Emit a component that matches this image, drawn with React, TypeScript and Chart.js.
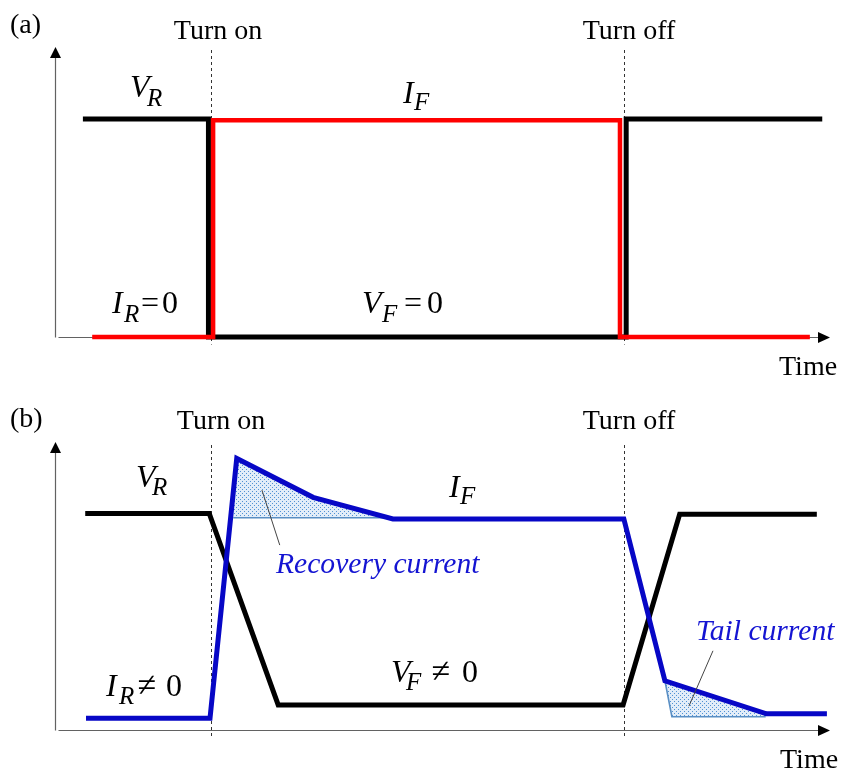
import React, { useEffect, useRef } from "react";
import { Chart, registerables } from "chart.js";

Chart.register(...registerables);

const SERIF = '"Liberation Serif", "Times New Roman", serif';
const BLUE = "#0707c6";
const BLUE_TEXT = "#1414d2";
const RED = "#ff0000";
const INK = "#000000";
const AXIS = "#626262";
const EDGE = "#5a8fc4";

const W = 843;
const H = 387;

// Switching instants on the time axis (0..100)
const turnOn = 20.1;
const turnOff = 73.4;

// (a) ideal diode: reverse voltage and forward current
const vrIdealT = [3.6, 19.8, 19.8, 73.7, 73.7, 99.0];
const vrIdealV = [75.2, 75.2, 0, 0, 75.2, 75.2];
const iIdealT = [4.8, 20.4, 20.4, 72.9, 72.9, 97.4];
const iIdealV = [0, 0, 74.7, 74.7, 0, 0];

// (b) real diode: finite slopes, recovery overshoot and tail
const vrRealT = [3.9, 19.9, 28.8, 73.3, 80.6, 98.3];
const vrRealV = [75.2, 75.2, 8.7, 8.7, 74.9, 74.9];
const iRealT = [4.0, 20.0, 23.45, 33.3, 43.6, 73.4, 78.7, 91.8, 99.6];
const iRealV = [4.1, 4.1, 94.3, 80.8, 73.3, 73.3, 17.1, 5.6, 5.6];

// Shaded areas (closed outlines)
const recoveryT = [22.8, 23.45, 33.3, 43.6];
const recoveryV = [73.7, 94.3, 80.8, 73.5];
const tailT = [78.7, 91.8, 91.7, 79.6];
const tailV = [17.1, 5.6, 4.6, 4.6];

// Thin outline under each shaded area
const recoveryEdgeT = [23.0, 43.6];
const recoveryEdgeV = [73.7, 73.7];
const tailEdgeT = [78.7, 79.6, 91.7];
const tailEdgeV = [17.1, 4.6, 4.6];

// Pointer lines from the notes to the shaded areas [t1, v1, t2, v2]
const recoveryPointer = [26.7, 83.3, 29.0, 64.2];
const tailPointer = [84.9, 27.5, 81.8, 8.3];

type Style = "t" | "tc" | "m" | "s" | "r" | "ne" | "n";
type Label = [string, number, number, Style];

// Text labels, page coordinates (x, baseline)
const labelsA: Label[] = [
  ["(a)", 10, 33, "t"],
  ["Turn on", 218, 39, "tc"],
  ["Turn off", 629, 39, "tc"],
  ["V", 130, 97, "m"],
  ["R", 147, 106, "s"],
  ["I", 403, 103, "m"],
  ["F", 414, 110, "s"],
  ["I", 112, 313, "m"],
  ["R", 124, 322, "s"],
  ["=", 141, 313, "r"],
  ["0", 162, 313, "r"],
  ["V", 362, 313, "m"],
  ["F", 382, 322, "s"],
  ["=", 404, 313, "r"],
  ["0", 427, 313, "r"],
  ["Time", 779, 375, "t"],
];

const labelsB: Label[] = [
  ["(b)", 10, 427, "t"],
  ["Turn on", 221, 429, "tc"],
  ["Turn off", 629, 429, "tc"],
  ["V", 136, 487, "m"],
  ["R", 152, 495, "s"],
  ["I", 449, 497, "m"],
  ["F", 460, 504, "s"],
  ["I", 106, 696, "m"],
  ["R", 119, 704, "s"],
  ["\u2260", 137, 696, "ne"],
  ["0", 166, 696, "r"],
  ["V", 391, 682, "m"],
  ["F", 406, 690, "s"],
  ["\u2260", 431, 682, "ne"],
  ["0", 462, 682, "r"],
  ["Recovery current", 276, 573, "n"],
  ["Tail current", 696, 640, "n"],
  ["Time", 780, 768, "t"],
];

function fontFor(s: Style): string {
  switch (s) {
    case "m":
      return `italic 32px ${SERIF}`;
    case "s":
      return `italic 25px ${SERIF}`;
    case "r":
      return `32px ${SERIF}`;
    case "ne":
      return `italic 34px ${SERIF}`;
    case "n":
      return `italic 29.6px ${SERIF}`;
    default:
      return `28px ${SERIF}`;
  }
}

function xy(ts: number[], vs: number[]) {
  return ts.map((t, i) => ({ x: t, y: vs[i] }));
}

function makeDots(): CanvasPattern | string {
  const c = document.createElement("canvas");
  c.width = 4;
  c.height = 4;
  const g = c.getContext("2d");
  if (!g) return "#cfe2f5";
  g.fillStyle = "#e2edf9";
  g.fillRect(0, 0, 4, 4);
  g.fillStyle = "#5192d3";
  g.fillRect(0, 0, 1, 1);
  g.fillRect(2, 2, 1, 1);
  return g.createPattern(c, "repeat") || "#cfe2f5";
}

type Panel = {
  top: number;
  padTop: number;
  padBottom: number;
  labels: Label[];
  areas: [number[], number[]][];
  pointers: number[][];
  datasets: any[];
};

function decorPlugin(p: Panel) {
  return {
    id: "panelDecor",
    beforeDatasetsDraw(chart: any) {
      const { ctx } = chart;
      const xs = chart.scales.x;
      const ys = chart.scales.y;
      const px = (v: number) => xs.getPixelForValue(v);
      const py = (v: number) => ys.getPixelForValue(v);
      const x0 = Math.round(px(0)) + 0.5;
      const y0 = Math.round(py(0)) + 0.5;
      const yTop = py(100);
      const xEnd = px(100);
      ctx.save();

      // shaded areas
      const dots = makeDots();
      for (const [ts, vs] of p.areas) {
        ctx.beginPath();
        ts.forEach((t, i) => {
          if (i === 0) ctx.moveTo(px(t), py(vs[i]));
          else ctx.lineTo(px(t), py(vs[i]));
        });
        ctx.closePath();
        ctx.fillStyle = dots;
        ctx.fill();
      }

      // axes with arrowheads
      ctx.strokeStyle = AXIS;
      ctx.lineWidth = 1.2;
      ctx.beginPath();
      ctx.moveTo(x0, y0);
      ctx.lineTo(x0, yTop + 10);
      ctx.stroke();
      ctx.beginPath();
      ctx.moveTo(x0 + 3, y0);
      ctx.lineTo(xEnd - 10, y0);
      ctx.stroke();
      ctx.fillStyle = INK;
      ctx.beginPath();
      ctx.moveTo(x0, yTop);
      ctx.lineTo(x0 - 5.5, yTop + 11);
      ctx.lineTo(x0 + 5.5, yTop + 11);
      ctx.closePath();
      ctx.fill();
      ctx.beginPath();
      ctx.moveTo(xEnd, y0);
      ctx.lineTo(xEnd - 12, y0 - 5.5);
      ctx.lineTo(xEnd - 12, y0 + 5.5);
      ctx.closePath();
      ctx.fill();

      // switching markers
      ctx.setLineDash([3, 3]);
      ctx.strokeStyle = "#333333";
      ctx.lineWidth = 1;
      for (const t of [turnOn, turnOff]) {
        const x = Math.round(px(t)) + 0.5;
        ctx.beginPath();
        ctx.moveTo(x, yTop + 3);
        ctx.lineTo(x, y0 + 7);
        ctx.stroke();
      }
      ctx.setLineDash([]);
      ctx.restore();
    },
    afterDatasetsDraw(chart: any) {
      const { ctx } = chart;
      const xs = chart.scales.x;
      const ys = chart.scales.y;
      const px = (v: number) => xs.getPixelForValue(v);
      const py = (v: number) => ys.getPixelForValue(v);
      ctx.save();
      ctx.strokeStyle = "#444444";
      ctx.lineWidth = 1;
      for (const [t1, v1, t2, v2] of p.pointers) {
        ctx.beginPath();
        ctx.moveTo(px(t1), py(v1));
        ctx.lineTo(px(t2), py(v2));
        ctx.stroke();
      }
      ctx.textBaseline = "alphabetic";
      for (const [text, x, y, style] of p.labels) {
        ctx.font = fontFor(style);
        ctx.fillStyle = style === "n" ? BLUE_TEXT : INK;
        ctx.textAlign = style === "tc" ? "center" : "left";
        ctx.fillText(text, x, y - p.top);
      }
      ctx.restore();
    },
  };
}

function line(data: { x: number; y: number }[], color: string, width: number, order: number) {
  return {
    data,
    borderColor: color,
    backgroundColor: color,
    borderWidth: width,
    pointRadius: 0,
    tension: 0,
    fill: false,
    clip: false,
    order,
    borderJoinStyle: "miter",
    borderCapStyle: "butt",
  };
}

function PanelChart({ panel }: { panel: Panel }) {
  const ref = useRef<HTMLCanvasElement | null>(null);
  useEffect(() => {
    if (!ref.current) return;
    const chart = new Chart(ref.current, {
      type: "line",
      data: { datasets: panel.datasets },
      options: {
        responsive: false,
        maintainAspectRatio: false,
        animation: false,
        devicePixelRatio: 1,
        layout: {
          padding: { left: 55, right: 13, top: panel.padTop, bottom: panel.padBottom },
        },
        scales: {
          x: { type: "linear", min: 0, max: 100, display: false },
          y: { type: "linear", min: 0, max: 100, display: false },
        },
        plugins: {
          legend: { display: false },
          tooltip: { enabled: false },
        },
        events: [],
      },
      plugins: [decorPlugin(panel)],
    } as any);
    return () => chart.destroy();
  }, [panel]);
  return (
    <canvas
      ref={ref}
      width={W}
      height={H}
      style={{ position: "absolute", left: 0, top: panel.top, width: W, height: H }}
    />
  );
}

const panelA: Panel = {
  top: 0,
  padTop: 47,
  padBottom: H - 337,
  labels: labelsA,
  areas: [],
  pointers: [],
  datasets: [
    line(xy(iIdealT, iIdealV), RED, 4.5, 0),
    line(xy(vrIdealT, vrIdealV), INK, 5, 1),
  ],
};

const panelB: Panel = {
  top: 387,
  padTop: 442 - 387,
  padBottom: H - (730 - 387),
  labels: labelsB,
  areas: [
    [recoveryT, recoveryV],
    [tailT, tailV],
  ],
  pointers: [recoveryPointer, tailPointer],
  datasets: [
    line(xy(iRealT, iRealV), BLUE, 5, 0),
    line(xy(vrRealT, vrRealV), INK, 5, 1),
    line(xy(recoveryEdgeT, recoveryEdgeV), EDGE, 1.6, 2),
    line(xy(tailEdgeT, tailEdgeV), EDGE, 1.6, 2),
  ],
};

export default function App() {
  return (
    <div style={{ position: "absolute", left: 0, top: 0, width: W, height: 2 * H, background: "#fff" }}>
      <PanelChart panel={panelA} />
      <PanelChart panel={panelB} />
    </div>
  );
}
